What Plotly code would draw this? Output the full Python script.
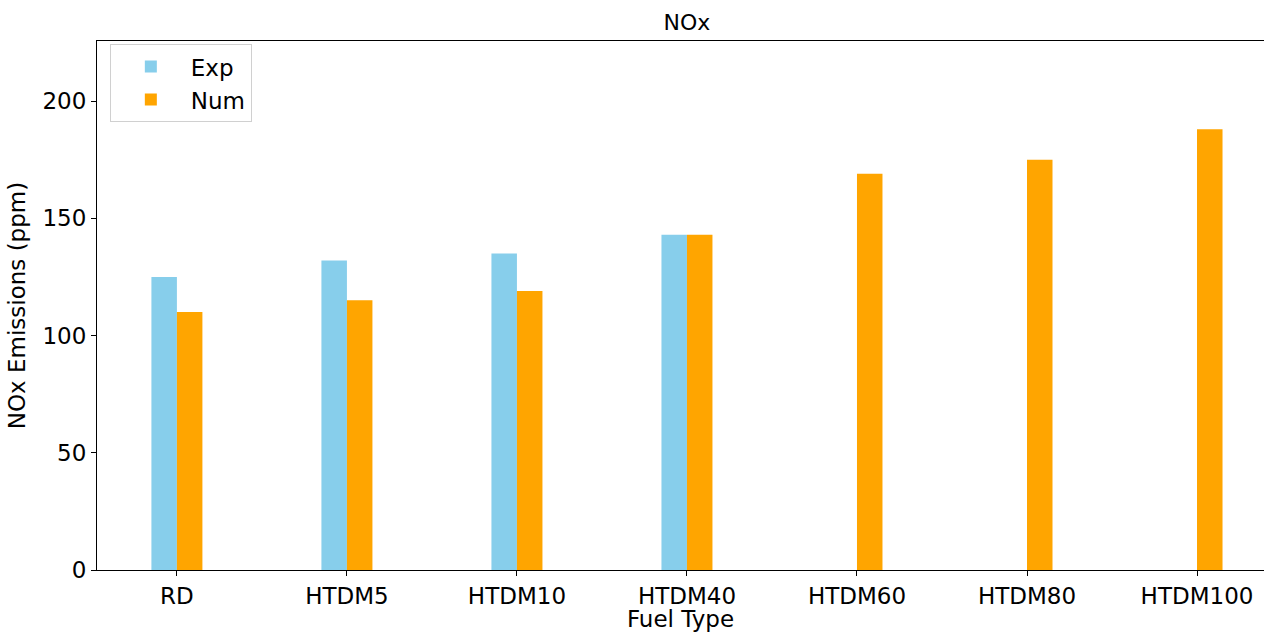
import plotly.graph_objects as go

fuels = ["RD", "HTDM5", "HTDM10", "HTDM40", "HTDM60", "HTDM80", "HTDM100"]
exp_vals = [125, 132, 135, 143, None, None, None]
num_vals = [110, 115, 119, 143, 169, 175, 188]
y_ticks = [0, 50, 100, 150, 200]

FONT = "DejaVu Sans"

fig = go.Figure()
fig.add_trace(go.Bar(x=fuels, y=exp_vals, name="Exp", marker=dict(color="#87CEEB", line=dict(width=0))))
fig.add_trace(go.Bar(x=fuels, y=num_vals, name="Num", marker=dict(color="#FFA500", line=dict(width=0))))

fig.update_layout(
    width=1264, height=632,
    margin=dict(l=97, r=0, t=41, b=62, autoexpand=False),
    paper_bgcolor="white", plot_bgcolor="white",
    barmode="group", bargap=0.7, bargroupgap=0,
    font=dict(family=FONT, size=23, color="black"),
    title=dict(text="NOx", x=687/1264, xanchor="center", y=1-22/632, yanchor="middle",
               font=dict(family=FONT, size=22, color="black")),
    legend=dict(x=0.011, y=0.994, xanchor="left", yanchor="top",
                bgcolor="rgba(255,255,255,0.8)", bordercolor="#d0d0d0", borderwidth=1,
                font=dict(family=FONT, size=23), traceorder="normal",
                itemwidth=70),
    xaxis=dict(type="category", range=[-0.47, 6.394], automargin=False,
               showline=True, linecolor="black", linewidth=1, mirror=True,
               ticks="outside", ticklen=5, tickcolor="black", showgrid=False,
               title=dict(text="Fuel Type", standoff=5, font=dict(size=23))),
    yaxis=dict(range=[0, 225.6], tickvals=y_ticks, automargin=False,
               showline=True, linecolor="black", linewidth=1, mirror=False,
               ticks="outside", ticklen=5, tickcolor="black", showgrid=False, zeroline=False,
               title=dict(text="NOx Emissions (ppm)", standoff=10, font=dict(size=23))),
)

fig.write_html("out.html",
               config={"displayModeBar": False},
               post_script="document.body.style.margin='0';document.body.style.overflow='hidden';")
